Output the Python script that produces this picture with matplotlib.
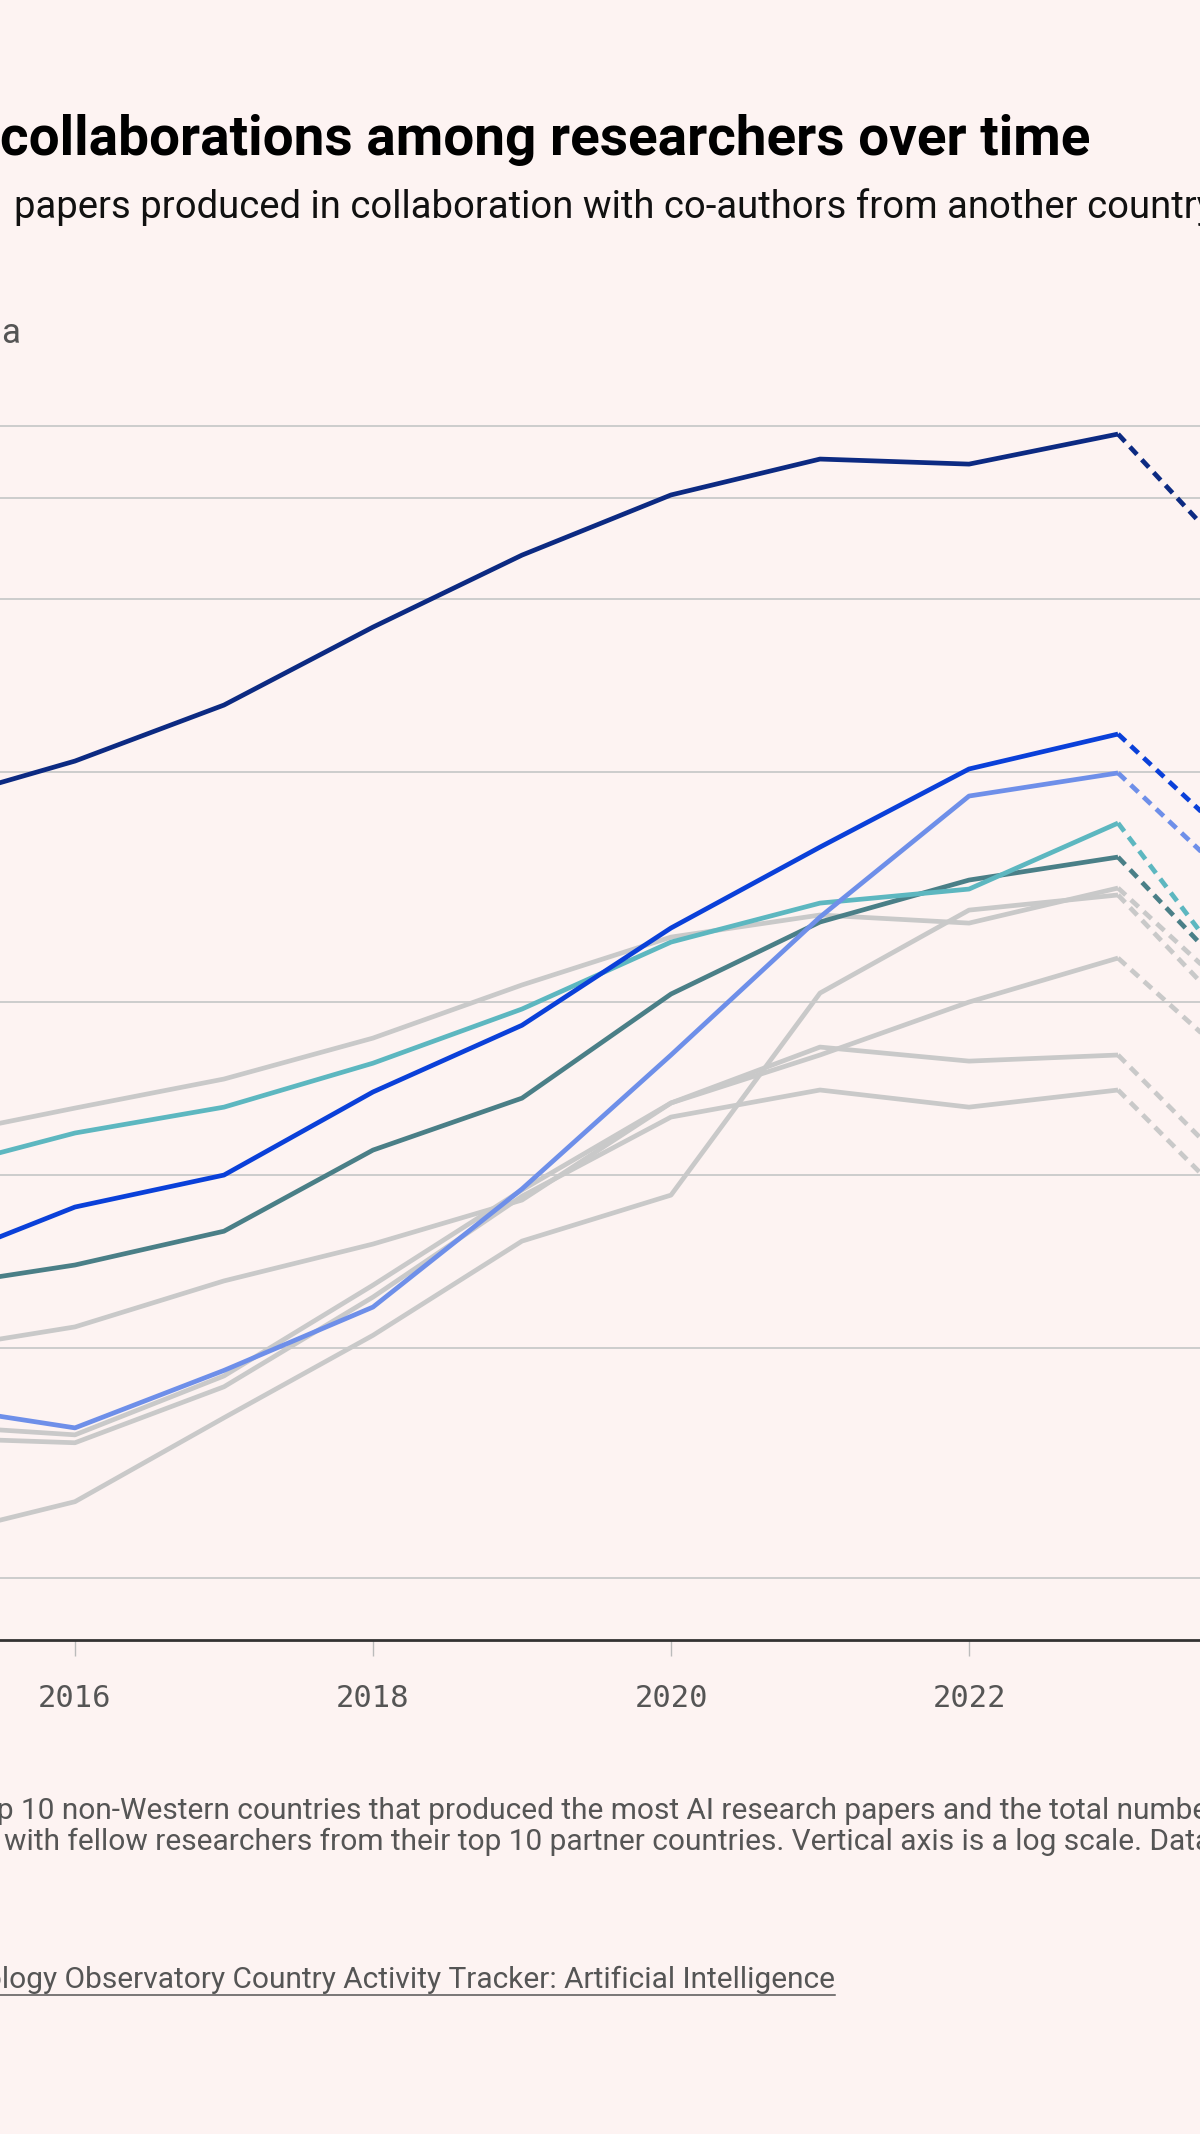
import matplotlib
matplotlib.use("Agg")
import matplotlib.pyplot as plt
from matplotlib.lines import Line2D
from matplotlib.ticker import NullLocator

W, H, DPI = 1200, 2134, 100
BG = "#fdf3f2"

# years; the last point (2024) is drawn dashed
years = [2015, 2016, 2017, 2018, 2019, 2020, 2021, 2022, 2023, 2024]

# highlighted countries
navy_vals = [4406, 5233, 6546, 8939, 11920, 15160, 17500, 17150, 19340, 10160]
blue_vals = [695, 880, 1000, 1394, 1820, 2685, 3710, 5070, 5830, 3345]
periwinkle_vals = [399, 364, 458, 590, 946, 1616, 2805, 4550, 4990, 2840]
teal_vals = [1012, 1183, 1312, 1564, 1942, 2538, 2966, 3137, 4084, 1859]
darkteal_vals = [637, 698, 799, 1105, 1360, 2062, 2750, 3252, 3565, 1904]

# the other countries, in grey
grey_a = [1159, 1307, 1468, 1729, 2138, 2589, 2828, 2738, 3150, 1822]
grey_c = [495, 545, 655, 759, 905, 1334, 1616, 1997, 2381, 1393]
grey_d = [368, 354, 448, 644, 942, 1334, 1668, 1577, 1616, 887]
grey_e = [350, 343, 429, 614, 919, 1261, 1405, 1312, 1405, 771]
grey_f = [234, 271, 379, 527, 768, 923, 2070, 2884, 3064, 1635]

grid_vals = [200, 500, 1000, 2000, 5000, 10000, 15000, 20000]
x_ticks = [2016, 2018, 2020, 2022]

plt.rcParams['font.family'] = ['Roboto', 'DejaVu Sans']

fig = plt.figure(figsize=(W / DPI, H / DPI), dpi=DPI, facecolor=BG)
ax = fig.add_axes([0, (H - 1640) / H, 1, 1240 / H])
ax.set_facecolor(BG)
ax.set_yscale('log')

series = [
    (grey_a, "#c9c9c9"), (grey_c, "#c9c9c9"), (grey_d, "#c9c9c9"),
    (grey_e, "#c9c9c9"), (grey_f, "#c9c9c9"),
    (darkteal_vals, "#4a7f87"), (teal_vals, "#5db7c0"),
    (periwinkle_vals, "#6e8fe9"), (blue_vals, "#0a40d9"),
    (navy_vals, "#0c2a82"),
]
for vals, col in series:
    ax.plot(years[:-1], vals[:-1], color=col, lw=3.4, solid_joinstyle='round',
            solid_capstyle='butt', zorder=3)
    ax.plot(years[-2:], vals[-2:], color=col, lw=3.4, linestyle=(0, (2.2, 1.5)),
            dash_capstyle='butt', zorder=3)

ax.set_yticks(grid_vals)
ax.yaxis.set_minor_locator(NullLocator())
ax.yaxis.grid(True, color="#cccccc", lw=1.4, zorder=1)
ax.tick_params(axis='y', length=0, labelleft=False)

ax.set_xticks(x_ticks)
ax.set_xticklabels([str(y) for y in x_ticks], family='DejaVu Sans Mono')
ax.tick_params(axis='x', length=11.5, width=1, color="#bbbbbb", pad=20,
               labelsize=22, labelcolor="#555555")
# limits after the ticks so they are not widened again
ax.set_ylim(155.9, 22160)
ax.set_xlim(2015.497, 2023.55)

for s in ['left', 'right', 'top']:
    ax.spines[s].set_visible(False)
ax.spines['bottom'].set_color("#333333")
ax.spines['bottom'].set_linewidth(2)
ax.spines['bottom'].set_zorder(4)

r = fig.canvas.get_renderer()


def fy(y):
    return 1 - y / H


def clipped_text(prefix, shown, x_shown, y, **kw):
    # part of the text runs off the left edge of the figure
    t = fig.text(0, 0, prefix, **kw)
    w = t.get_window_extent(r).width
    t.remove()
    return fig.text((x_shown - w) / W, fy(y), prefix + shown, va='baseline', **kw)


fig.text(0.0, fy(155), "collaborations among researchers over time", fontsize=39.5,
         fontweight='bold', color="#000000", va='baseline')
fig.text(14 / W, fy(218), "papers produced in collaboration with co-authors from another country",
         fontsize=27.5, color="#111111", va='baseline')
fig.text(1 / W, fy(343), "a", fontsize=25, color="#555555", va='baseline')

note_kw = dict(fontsize=21.5, color="#555555")
clipped_text("to", "p 10 non-Western countries that produced the most AI research papers and the total number",
             -3, 1819, **note_kw)
fig.text(4 / W, fy(1850),
         "with fellow researchers from their top 10 partner countries. Vertical axis is a log scale. Data",
         va='baseline', **note_kw)
src = clipped_text("Emerging Techno", "logy Observatory Country Activity Tracker: Artificial Intelligence",
                   2, 1988, **note_kw)
bb = src.get_window_extent(r)
fig.add_artist(Line2D([bb.x0 / W, bb.x1 / W], [fy(1995), fy(1995)],
                      transform=fig.transFigure, color="#555555", lw=1.1))

fig.savefig("out.png", dpi=DPI, facecolor=BG)
